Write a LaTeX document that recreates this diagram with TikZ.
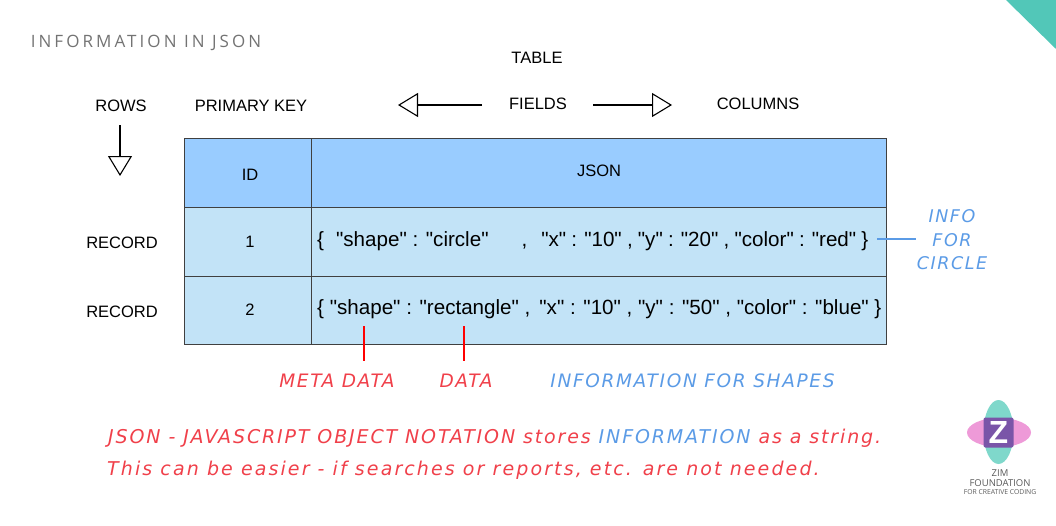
\documentclass[tikz,border=0pt]{standalone}
\usepackage{fontspec}
\setmainfont{Liberation Sans}
\newfontfamily\jsonfont{Liberation Sans}
\newfontfamily\techfont[LetterSpace=9]{DejaVu Sans}
\newfontfamily\technote[LetterSpace=9.8]{DejaVu Sans}
\newfontfamily\techwide[LetterSpace=11.1]{DejaVu Sans}
\newfontfamily\titlefont[LetterSpace=18]{Open Sans}
\newfontfamily\logofont{Open Sans}
\usetikzlibrary{arrows.meta}
\definecolor{headblue}{HTML}{99CCFF}
\definecolor{rowblue}{HTML}{C2E3F7}
\definecolor{infoblue}{HTML}{5B9BE6}
\definecolor{notered}{HTML}{F0404A}
\definecolor{tealcorner}{HTML}{52C7B8}
\definecolor{logoteal}{HTML}{7FD8CB}
\definecolor{logopink}{HTML}{EE9AD8}
\definecolor{logopurple}{HTML}{7A55A8}
\tikzset{
	lbl/.style={font=\fontsize{16.5}{16.5}\selectfont, text=black, inner sep=0pt},
	cell/.style={draw=black!75, line width=0.8pt, minimum width=#1, inner sep=0pt, minimum height=68.7},
	jsontxt/.style={font=\jsonfont\fontsize{20.6}{20.6}\selectfont, text=black, inner sep=0pt, anchor=west},
	openarrow/.style={line width=1.1pt, -{Triangle[open, length=20, width=24, line width=1.1pt]}},
	tech/.style={font=\techfont\itshape\fontsize{#1}{#1}\selectfont, inner sep=0pt},
	notetxt/.style={font=#1\itshape\fontsize{19}{19}\selectfont, inner sep=0pt, text=notered, anchor=west},
}
\begin{document}
\begin{tikzpicture}[x=1pt, y=-1pt]
	\useasboundingbox (0, 0) rectangle (1056, 525);
	% angolo
	\fill[tealcorner] (1006, 0) -- (1056, 0) -- (1056, 49) -- cycle;
	% titolo
	\node[font=\titlefont\fontsize{17}{17}\selectfont, text=black!55, inner sep=0pt] (title) at (146, 43) {INFORMATION IN JSON};
	% etichette
	\node[lbl] (table) at (537, 58) {TABLE};
	\node[lbl] (rows) at (121, 106) {ROWS};
	\node[lbl] (primary) at (251, 106) {PRIMARY KEY};
	\node[lbl] (fields) at (538, 104) {FIELDS};
	\node[lbl] (columns) at (758, 104) {COLUMNS};
	\node[lbl] (rec1) at (122, 243) {RECORD};
	\node[lbl] (rec2) at (122, 312) {RECORD};
	% frecce
	\coordinate (rowsstart) at (120, 125);
	\coordinate (rowsend) at (120, 176);
	\coordinate (leftstart) at (482, 105);
	\coordinate (leftend) at (398, 105);
	\coordinate (rightstart) at (593, 105);
	\coordinate (rightend) at (672, 105);
	\draw[openarrow] (rowsstart) -- (rowsend);
	\draw[openarrow] (leftstart) -- (leftend);
	\draw[openarrow] (rightstart) -- (rightend);
	% tabella
	\node[cell=127, fill=headblue] (idhead) at (247.5, 173) {};
	\node[cell=575, fill=headblue] (jsonhead) at (598.5, 173) {};
	\node[cell=127, fill=rowblue] (id1) at (247.5, 241.7) {};
	\node[cell=575, fill=rowblue] (json1) at (598.5, 241.7) {};
	\node[cell=127, fill=rowblue] (id2) at (247.5, 310.4) {};
	\node[cell=575, fill=rowblue] (json2) at (598.5, 310.4) {};
	\node[lbl] at (250, 175) {ID};
	\node[lbl] at (599, 171) {JSON};
	\node[lbl] at (250, 242) {1};
	\node[lbl] at (250, 310) {2};
	\node[jsontxt] (row1) at (317, 241) {\{\hspace{12pt}"shape" : "circle"\hspace{33pt},\hspace{14pt}{\spaceskip=5.2pt "x" : "10" , "y" : "20" , "color" : "red" \}}};
	\node[jsontxt] (row2) at (317, 309) {\{ "shape" : "rectangle" ,\hspace{9pt}"x" : "10" , "y" : "50" , "color" : "blue" \}};
	% richiami
	\coordinate (metatop) at (364, 326);
	\coordinate (datatop) at (464, 326);
	\node[tech=18.5, text=notered] (meta) at (337, 381) {META DATA};
	\node[tech=18.5, text=notered] (data) at (466, 381) {DATA};
	\draw[red, line width=1.5pt] (metatop) -- (364, 361);
	\draw[red, line width=1.5pt] (datatop) -- (464, 361);
	\node[tech=18.5, text=infoblue] (shapes) at (692.5, 381) {INFORMATION FOR SHAPES};
	\node[tech=17.5, text=infoblue, align=center] (info) at (952, 240) {INFO\\[6pt]FOR\\[6pt]CIRCLE};
	\coordinate (infoline) at (877, 239);
	\draw[infoblue, line width=1.3pt] (infoline) -- (916, 239);
	% nota
	\node[notetxt=\technote] (note1) at (108, 438) {JSON - JAVASCRIPT OBJECT NOTATION stores \textcolor{infoblue}{INFORMATION} as a string.};
	\node[notetxt=\techwide] (note2) at (107, 470) {This can be easier - if searches or reports, etc. are not needed.};
	% logo
	\fill[logoteal] (998.5, 432) ellipse [x radius=15, y radius=32];
	\fill[logopink] (999, 432.5) ellipse [x radius=32, y radius=14.5];
	\fill[logopurple, rounded corners=2pt] (983.5, 417.5) rectangle (1013.5, 447.5);
	\node[font=\bfseries\fontsize{32}{32}\selectfont, text=white, inner sep=0pt] (zed) at (998.5, 432.5) {Z};
	\node[font=\logofont\fontsize{9.5}{9.5}\selectfont, text=black!65, inner sep=0pt] (zim) at (1000, 473) {ZIM};
	\node[font=\logofont\fontsize{9.5}{9.5}\selectfont, text=black!65, inner sep=0pt] (found) at (1000, 483) {FOUNDATION};
	\node[font=\logofont\fontsize{6.8}{6.8}\selectfont, text=black!65, inner sep=0pt] (coding) at (1000, 492.5) {FOR CREATIVE CODING};
\end{tikzpicture}
\end{document}
